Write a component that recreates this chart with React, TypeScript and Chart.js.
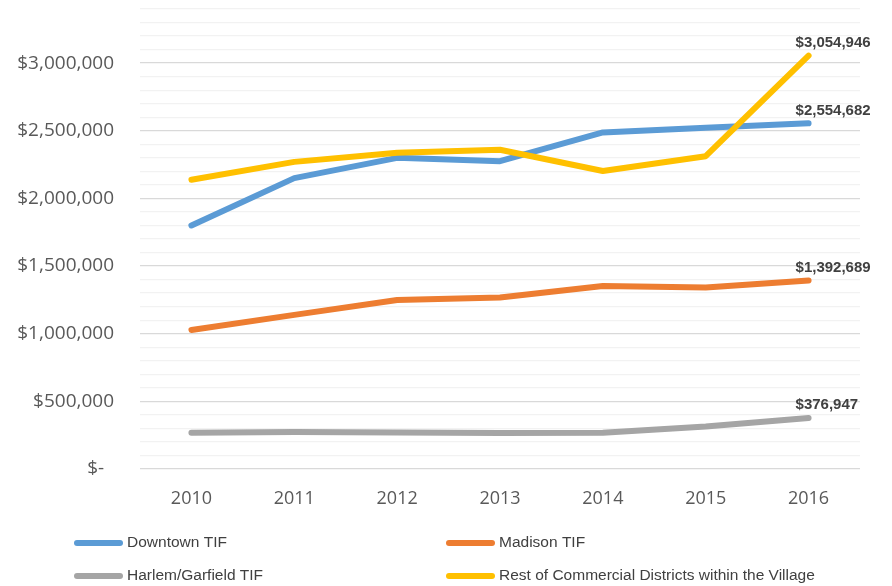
import React, { useEffect, useRef } from "react";
import { Chart, registerables } from "chart.js";

Chart.register(...registerables);

const years = ["2010", "2011", "2012", "2013", "2014", "2015", "2016"];
const seriesNames = [
  "Downtown TIF",
  "Madison TIF",
  "Harlem/Garfield TIF",
  "Rest of Commercial Districts within the Village",
];
const downtown = [1800000, 2150000, 2300000, 2275000, 2488000, 2522000, 2554682];
const madison = [1028000, 1139000, 1249000, 1268000, 1352000, 1341000, 1392689];
const harlem = [268000, 274000, 270000, 267000, 268000, 314000, 376947];
const rest = [2138000, 2270000, 2338000, 2360000, 2203000, 2312000, 3054946];
const colors = ["#5B9BD5", "#ED7D31", "#A5A5A5", "#FFC000"];

const fmt = (v: number) => "$" + Math.round(v).toLocaleString("en-US");

const labelPlugin = {
  id: "endLabels",
  afterDatasetsDraw(chart: any) {
    const ctx = chart.ctx;
    ctx.save();
    ctx.font = "bold 15px 'Liberation Sans', Arial, sans-serif";
    ctx.fillStyle = "#404040";
    ctx.textAlign = "left";
    ctx.textBaseline = "middle";
    chart.data.datasets.forEach((ds: any, i: number) => {
      const meta = chart.getDatasetMeta(i);
      const last = meta.data[meta.data.length - 1];
      const v = ds.data[ds.data.length - 1];
      ctx.fillText(fmt(v), last.x - 13, last.y - 13);
    });
    ctx.restore();
  },
  afterDraw(chart: any) {
    const ctx = chart.ctx;
    ctx.save();
    const cols = [74, 446];
    const rows = [543, 576];
    ctx.font = "15.5px 'Liberation Sans', Arial, sans-serif";
    ctx.textAlign = "left";
    ctx.textBaseline = "middle";
    seriesNames.forEach((name, i) => {
      const x = cols[i % 2];
      const y = rows[Math.floor(i / 2)];
      ctx.strokeStyle = colors[i];
      ctx.lineWidth = 6;
      ctx.lineCap = "round";
      ctx.beginPath();
      ctx.moveTo(x + 3, y);
      ctx.lineTo(x + 46, y);
      ctx.stroke();
      ctx.fillStyle = "#404040";
      ctx.fillText(name, x + 53, y);
    });
    ctx.restore();
  },
};

export default function App() {
  const ref = useRef<HTMLCanvasElement>(null);
  useEffect(() => {
    if (!ref.current) return;
    const data = [downtown, madison, harlem, rest];
    const orders = [4, 3, 2, 1];
    const chart = new Chart(ref.current, {
      type: "line",
      data: {
        labels: years,
        datasets: data.map((d, i) => ({
          label: seriesNames[i],
          data: d,
          borderColor: colors[i],
          backgroundColor: colors[i],
          borderWidth: 6,
          pointRadius: 0,
          borderCapStyle: "round",
          borderJoinStyle: "round",
          tension: 0,
          order: orders[i],
        })),
      },
      options: {
        responsive: false,
        animation: false,
        layout: { padding: { left: 0, right: 32, top: 9, bottom: 67 } },
        plugins: { legend: { display: false }, tooltip: { enabled: false } },
        scales: {
          x: {
            offset: true,
            grid: { display: false },
            border: { display: false },
            ticks: {
              color: "#595959",
              font: { family: "'Open Sans', sans-serif", size: 18 },
              padding: 11,
            },
            afterFit: (s: any) => {
              s.height = 50;
              s.paddingLeft = 0;
              s.paddingRight = 0;
            },
          },
          y: {
            min: 0,
            max: 3400000,
            border: { display: false },
            grid: {
              drawTicks: false,
              color: (c: any) =>
                c.tick && c.tick.value % 500000 === 0 ? "#d9d9d9" : "#f2f2f2",
              lineWidth: 1.3,
            },
            ticks: {
              stepSize: 100000,
              autoSkip: false,
              padding: 26,
              color: "#595959",
              font: { family: "'Open Sans', sans-serif", size: 19 },
              callback: (v: any) => {
                const n = Number(v);
                if (n % 500000 !== 0) return "";
                if (n === 0) return "$-  ";
                return fmt(n);
              },
            },
            afterFit: (s: any) => {
              s.width = 140;
              s.paddingTop = 0;
              s.paddingBottom = 0;
            },
          },
        },
      },
      plugins: [labelPlugin],
    });
    return () => chart.destroy();
  }, []);
  return (
    <div style={{ position: "fixed", left: 0, top: 0, width: 892, height: 586, background: "#fff" }}>
      <canvas ref={ref} width={892} height={586} style={{ width: 892, height: 586 }} />
    </div>
  );
}
